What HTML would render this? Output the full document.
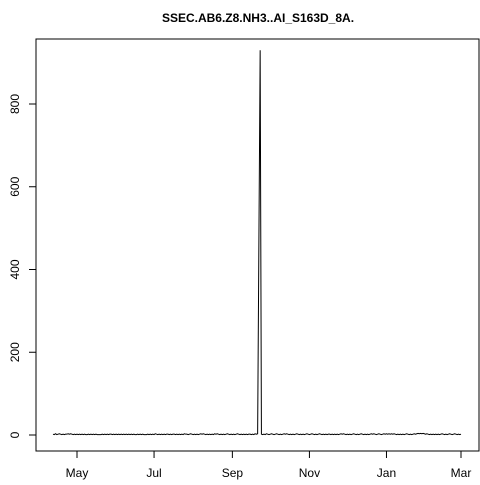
<!DOCTYPE html>
<html><head><meta charset="utf-8"><style>
body{margin:0;background:#fff;width:480px;height:480px;overflow:hidden}
svg text{font-family:"Liberation Sans",Arial,sans-serif;fill:#000}
</style></head><body>
<svg id="c" width="480" height="480">
<rect width="480" height="480" fill="#fff"/>
<text x="258" y="22" text-anchor="middle" font-size="12" font-weight="bold">SSEC.AB6.Z8.NH3..AI_S163D_8A.</text>
<rect x="36" y="39" width="443" height="412" fill="none" stroke="#000"/>
<g id="axes"></g>
<path id="line" fill="none" stroke="#000" stroke-width="1"/>
</svg>
<script>
const yTicks=[0,200,400,600,800];
const xTickLabels=["May","Jul","Sep","Nov","Jan","Mar"];
const xTickDays=[19,80,142,203,264,323];
const noise="2131232121223232121212121211212121211112121212212121212121212121211212121112121213212121212212122121212132212321212123232121212132321212123212121232121212122121323232121321232123212123232121212321212123212321212321212122121212123232121212321212321212123232123212323232323212121212321212323434343232121212121"
 +"2321212321232121232123212321212321232121232123212321212321232121232123212321";
const spikeDays=[163,164];
const spikeValues=[466,930];
const values=noise.split("").map(Number).slice(0,324);
spikeDays.forEach((d,i)=>values[d]=spikeValues[i]);
const x=d=>77+(d-19)*(461-77)/304;
const y=v=>435-v*(435-104)/800;
const ns="http://www.w3.org/2000/svg";
const ax=document.getElementById("axes");
function mk(t,a){const e=document.createElementNS(ns,t);for(const k in a)e.setAttribute(k,a[k]);ax.appendChild(e);return e;}
yTicks.forEach(v=>{
 const l=mk("line",{x1:29,x2:36,y1:y(v),y2:y(v),stroke:"#000"});
 
 
 const t=mk("text",{x:0,y:0,"font-size":12,"text-anchor":"middle",transform:`translate(19,${y(v)}) rotate(-90)`});
 t.textContent=v;
 
 
});
xTickDays.forEach((d,i)=>{
 const l=mk("line",{x1:x(d),x2:x(d),y1:451,y2:458,stroke:"#000"});
 
 
 const t=mk("text",{x:x(d),y:477,"font-size":12,"text-anchor":"middle"});
 t.textContent=xTickLabels[i];
 
 
});
document.getElementById("line").setAttribute("d",values.map((v,i)=>(i?"L":"M")+x(i).toFixed(2)+","+y(v).toFixed(2)).join(""));
</script>
</body></html>
